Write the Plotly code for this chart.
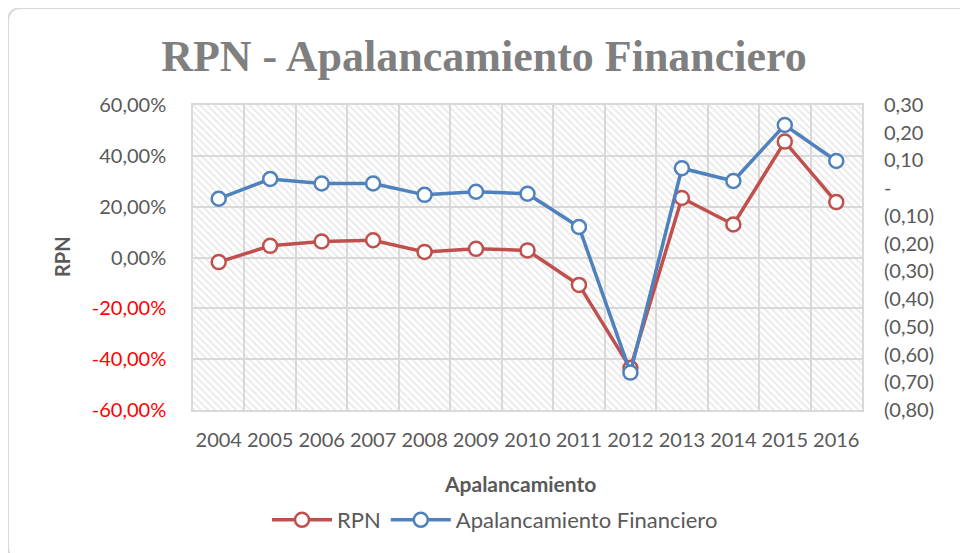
import plotly.graph_objects as go

years = [2004, 2005, 2006, 2007, 2008, 2009, 2010, 2011, 2012, 2013, 2014, 2015, 2016]
rpn = [-1.8, 4.6, 6.3, 6.8, 2.2, 3.4, 2.8, -10.8, -43.5, 23.4, 13.0, 45.6, 21.8]  # %
apal = [-0.038, 0.033, 0.017, 0.017, -0.024, -0.013, -0.020, -0.140, -0.665, 0.072, 0.026, 0.228, 0.098]

left_vals = [60, 40, 20, 0, -20, -40, -60]
left_text = ["60,00%", "40,00%", "20,00%", "0,00%",
             "<span style='color:#FF0000'>-20,00%</span>",
             "<span style='color:#FF0000'>-40,00%</span>",
             "<span style='color:#FF0000'>-60,00%</span>"]
right_vals = [0.3, 0.2, 0.1, 0.0, -0.1, -0.2, -0.3, -0.4, -0.5, -0.6, -0.7, -0.8]
right_text = ["0,30", "0,20", "0,10", "-", "(0,10)", "(0,20)", "(0,30)", "(0,40)",
              "(0,50)", "(0,60)", "(0,70)", "(0,80)"]

RED = "#C0504D"
BLUE = "#4F81BD"
GRAY = "#595959"
FONT = "Lato"

# page has an 8px body margin, so the figure is drawn 8px in
OFF = 8
W, H = 968 - OFF, 553 - OFF
L, R, T, B = 193 - OFF, 862 - OFF, 105 - OFF, 410 - OFF

def px(x):
    return (x - OFF - L) / (R - L)

def py(y):
    return (B - (y - OFF)) / (B - T)

fig = go.Figure()

# hatched plot-area background
x0, x1 = years[0] - 0.5, years[-1] + 0.5
fig.add_trace(go.Scatter(
    x=[x0, x1, x1, x0, x0], y=[left_vals[-1], left_vals[-1], left_vals[0], left_vals[0], left_vals[-1]],
    mode="lines", line=dict(width=0), fill="toself", fillcolor="rgba(0,0,0,0)",
    fillpattern=dict(shape="\\", fgcolor="#d6d6d6", bgcolor="rgba(255,255,255,0)", size=5, solidity=0.4),
    hoverinfo="skip", showlegend=False))

fig.add_trace(go.Scatter(
    x=years, y=rpn, name="RPN", mode="lines+markers",
    line=dict(color=RED, width=3.5),
    marker=dict(symbol="circle", size=14, color="white", line=dict(color=RED, width=2.5))))

fig.add_trace(go.Scatter(
    x=years, y=apal, name="Apalancamiento Financiero", mode="lines+markers", yaxis="y2",
    line=dict(color=BLUE, width=3.5),
    marker=dict(symbol="circle", size=14, color="white", line=dict(color=BLUE, width=2.5))))

grid = "#d9d9d9"
fig.update_layout(
    width=W, height=H,
    margin=dict(l=L, r=W - R, t=T, b=H - B),
    paper_bgcolor="white", plot_bgcolor="white",
    font=dict(family=FONT, color=GRAY, size=20),
    title=dict(text="<b>RPN - Apalancamiento Financiero</b>", x=(484 - OFF) / W, xref="container",
               xanchor="center", y=1 - (56 - OFF) / H, yref="container", yanchor="middle",
               font=dict(family="Liberation Serif", size=44, color="#7F7F7F")),
    xaxis=dict(range=[x0, x1], tickvals=years, ticktext=[str(y) for y in years],
               showgrid=False, zeroline=False, showline=True, linecolor=grid, linewidth=1.5,
               mirror=True, ticks="", ticklabelstandoff=11,
               minor=dict(tickvals=[y - 0.5 for y in years] + [x1], showgrid=True,
                          gridcolor=grid, gridwidth=1.5, ticks=""),
               tickfont=dict(size=20, color=GRAY)),
    yaxis=dict(range=[left_vals[-1], left_vals[0]], tickvals=left_vals, ticktext=left_text,
               showgrid=True, gridcolor=grid, gridwidth=1.5, zeroline=False,
               showline=True, linecolor=grid, linewidth=1.5, mirror=True,
               ticks="", ticklabelstandoff=21, tickfont=dict(size=20, color=GRAY)),
    yaxis2=dict(range=[right_vals[-1], right_vals[0]], tickvals=right_vals, ticktext=right_text,
                overlaying="y", side="right", showgrid=False, zeroline=False,
                ticks="", ticklabelstandoff=21, tickfont=dict(size=20, color=GRAY)),
    legend=dict(orientation="h", x=px(495), xanchor="center", y=py(520), yanchor="middle",
                font=dict(size=22, color=GRAY), itemwidth=60, tracegroupgap=0,
                bgcolor="rgba(0,0,0,0)"),
    showlegend=True,
)

fig.add_annotation(text="<b>Apalancamiento</b>", x=px(520), y=py(483), xref="paper", yref="paper",
                   showarrow=False, xanchor="center", yanchor="middle",
                   font=dict(family=FONT, size=21, color=GRAY))
fig.add_annotation(text="<b>RPN</b>", x=px(62), y=py(257), xref="paper", yref="paper",
                   showarrow=False, textangle=-90, xanchor="center", yanchor="middle",
                   font=dict(family=FONT, size=20, color=GRAY))

# rounded outer border (right and bottom edges fall outside the picture)
bx0, by0, bx1, by1, r = 8, 8, 972, 560, 14
path = (f"M {px(bx0 + r)} {py(by0)} L {px(bx1 - r)} {py(by0)} "
        f"Q {px(bx1)} {py(by0)} {px(bx1)} {py(by0 + r)} "
        f"L {px(bx1)} {py(by1 - r)} Q {px(bx1)} {py(by1)} {px(bx1 - r)} {py(by1)} "
        f"L {px(bx0 + r)} {py(by1)} Q {px(bx0)} {py(by1)} {px(bx0)} {py(by1 - r)} "
        f"L {px(bx0)} {py(by0 + r)} Q {px(bx0)} {py(by0)} {px(bx0 + r)} {py(by0)} Z")
fig.add_shape(type="path", path=path, xref="paper", yref="paper",
              line=dict(color="#d9d9d9", width=2), layer="below")

fig.write_html("out.html")
